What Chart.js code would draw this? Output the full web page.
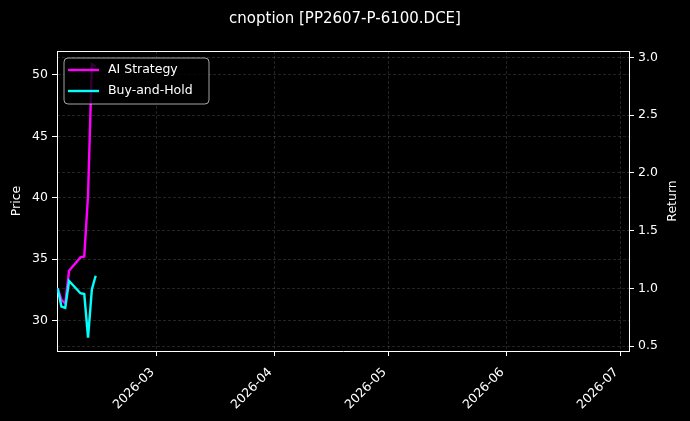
<!DOCTYPE html>
<html>
<head>
<meta charset="utf-8">
<script src="https://cdn.jsdelivr.net/npm/chart.js@4.4.1/dist/chart.umd.min.js"></script>
<style>
  html, body { margin: 0; padding: 0; background: #000; }
  #wrap { width: 690px; height: 421px; position: relative; }
</style>
</head>
<body>
<div id="wrap"><canvas id="chart"></canvas></div>
<script>
// trading days shown in the backtest
var dates = ['2026-02-03', '2026-02-04', '2026-02-05', '2026-02-06', '2026-02-09',
             '2026-02-10', '2026-02-11', '2026-02-12', '2026-02-13'];
// cumulative return
var aiStrategy = [1.0, 0.90, 0.87, 1.152, 1.268, 1.275, 1.808, 2.94, 2.92];
var buyAndHold = [1.0, 0.842, 0.83, 1.063, 0.957, 0.95, 0.572, 0.991, 1.109];
// axis ticks
var monthTicks = ['2026-03-01', '2026-04-01', '2026-05-01', '2026-06-01', '2026-07-01'];
var priceTicks = [30, 35, 40, 45, 50];
var returnTicks = [0.5, 1.0, 1.5, 2.0, 2.5, 3.0];

var xMin = Date.parse('2026-02-02T20:00:00Z');
var xMax = Date.parse('2026-07-03T06:00:00Z');

function toPoints(values) {
    return values.map(function (v, i) {
        return { x: Date.parse(dates[i] + 'T00:00:00Z'), y: v };
    });
}

function monthLabel(ms) {
    var d = new Date(ms);
    var m = d.getUTCMonth() + 1;
    return d.getUTCFullYear() + '-' + (m < 10 ? '0' + m : m);
}

Chart.defaults.font.family = "'DejaVu Sans', sans-serif";
Chart.defaults.font.size = 12.5;
Chart.defaults.color = '#fff';

var gridColor = 'rgba(255,255,255,0.2)';

// frame top line, axis titles and the boxed legend inside the plot
var decorations = {
    id: 'decorations',
    afterDatasetsDraw: function (chart) {
        var ctx = chart.ctx;
        ctx.save();
        // legend box
        var bx = 64, by = 58, bw = 145, bh = 46, r = 4;
        ctx.beginPath();
        ctx.moveTo(bx + r, by);
        ctx.arcTo(bx + bw, by, bx + bw, by + bh, r);
        ctx.arcTo(bx + bw, by + bh, bx, by + bh, r);
        ctx.arcTo(bx, by + bh, bx, by, r);
        ctx.arcTo(bx, by, bx + bw, by, r);
        ctx.closePath();
        ctx.fillStyle = 'rgba(0,0,0,0.8)';
        ctx.fill();
        ctx.strokeStyle = 'rgba(204,204,204,0.8)';
        ctx.lineWidth = 1;
        ctx.stroke();
        var rows = [70, 91];
        chart.data.datasets.forEach(function (ds, i) {
            ctx.beginPath();
            ctx.strokeStyle = ds.borderColor;
            ctx.lineWidth = ds.borderWidth;
            ctx.moveTo(68, rows[i]);
            ctx.lineTo(99, rows[i]);
            ctx.stroke();
            ctx.fillStyle = '#fff';
            ctx.font = "12.5px 'DejaVu Sans'";
            ctx.textAlign = 'left';
            ctx.textBaseline = 'middle';
            ctx.fillText(ds.label, 108, rows[i]);
        });
        ctx.restore();
    },
    afterDraw: function (chart) {
        var ctx = chart.ctx;
        var a = chart.chartArea;
        ctx.save();
        ctx.strokeStyle = '#fff';
        ctx.lineWidth = 1;
        ctx.beginPath();
        ctx.moveTo(a.left, a.top + 0.5);
        ctx.lineTo(a.right, a.top + 0.5);
        ctx.stroke();
        ctx.fillStyle = '#fff';
        ctx.font = "12.5px 'DejaVu Sans'";
        ctx.textAlign = 'center';
        ctx.textBaseline = 'middle';
        var cy = (a.top + a.bottom) / 2;
        ctx.translate(17, cy);
        ctx.rotate(-Math.PI / 2);
        ctx.fillText('Price', 0, 0);
        ctx.restore();
        ctx.save();
        ctx.fillStyle = '#fff';
        ctx.font = "12.5px 'DejaVu Sans'";
        ctx.textAlign = 'center';
        ctx.textBaseline = 'middle';
        ctx.translate(673, cy);
        ctx.rotate(-Math.PI / 2);
        ctx.fillText('Return', 0, 0);
        ctx.restore();
    }
};

var ctx = document.getElementById('chart').getContext('2d');
var myChart = new Chart(ctx, {
    type: 'line',
    data: {
        datasets: [{
            label: 'AI Strategy',
            data: toPoints(aiStrategy),
            borderColor: '#ff00ff',
            borderWidth: 2.4,
            pointRadius: 0,
            tension: 0,
            yAxisID: 'y1',
            order: 1
        }, {
            label: 'Buy-and-Hold',
            data: toPoints(buyAndHold),
            borderColor: '#00ffff',
            borderWidth: 2.4,
            pointRadius: 0,
            tension: 0,
            yAxisID: 'y1',
            order: 0
        }]
    },
    options: {
        responsive: true,
        maintainAspectRatio: false,
        animation: false,
        layout: { padding: 0 },
        plugins: {
            legend: { display: false },
            tooltip: { enabled: false },
            title: {
                display: true,
                text: 'cnoption [PP2607-P-6100.DCE]',
                color: '#fff',
                font: { size: 15, weight: 'normal' },
                padding: { top: 10, bottom: 23 }
            }
        },
        scales: {
            x: {
                type: 'linear',
                min: xMin,
                max: xMax,
                afterBuildTicks: function (scale) {
                    scale.ticks = monthTicks.map(function (d) {
                        return { value: Date.parse(d + 'T00:00:00Z') };
                    });
                },
                afterFit: function (scale) { scale.height = 70; },
                ticks: {
                    autoSkip: false,
                    minRotation: 45,
                    maxRotation: 45,
                    padding: 9,
                    labelOffset: -4,
                    color: '#fff',
                    callback: function (v) { return monthLabel(v); }
                },
                grid: {
                    color: gridColor,
                    lineWidth: 0.7,
                    tickColor: '#fff',
                    tickLength: 5,
                    tickWidth: 1
                },
                border: { color: '#fff', width: 1, dash: [3, 2] }
            },
            y: {
                type: 'linear',
                position: 'left',
                min: 27.53,
                max: 51.95,
                afterBuildTicks: function (scale) {
                    scale.ticks = priceTicks.map(function (v) { return { value: v }; });
                },
                afterFit: function (scale) { scale.width = 57; },
                ticks: { padding: 4, color: '#fff' },
                grid: {
                    color: gridColor,
                    lineWidth: 0.7,
                    tickColor: '#fff',
                    tickLength: 5,
                    tickWidth: 1
                },
                border: { color: '#fff', width: 1, dash: [3, 2] }
            },
            y1: {
                type: 'linear',
                position: 'right',
                min: 0.457,
                max: 3.055,
                afterBuildTicks: function (scale) {
                    scale.ticks = returnTicks.map(function (v) { return { value: v }; });
                },
                afterFit: function (scale) { scale.width = 61; },
                ticks: {
                    padding: 4,
                    color: '#fff',
                    callback: function (v) { return v.toFixed(1); }
                },
                grid: {
                    color: gridColor,
                    lineWidth: 0.7,
                    tickColor: '#fff',
                    tickLength: 5,
                    tickWidth: 1
                },
                border: { color: '#fff', width: 1, dash: [3, 2] }
            }
        }
    },
    plugins: [decorations]
});
</script>
</body>
</html>
